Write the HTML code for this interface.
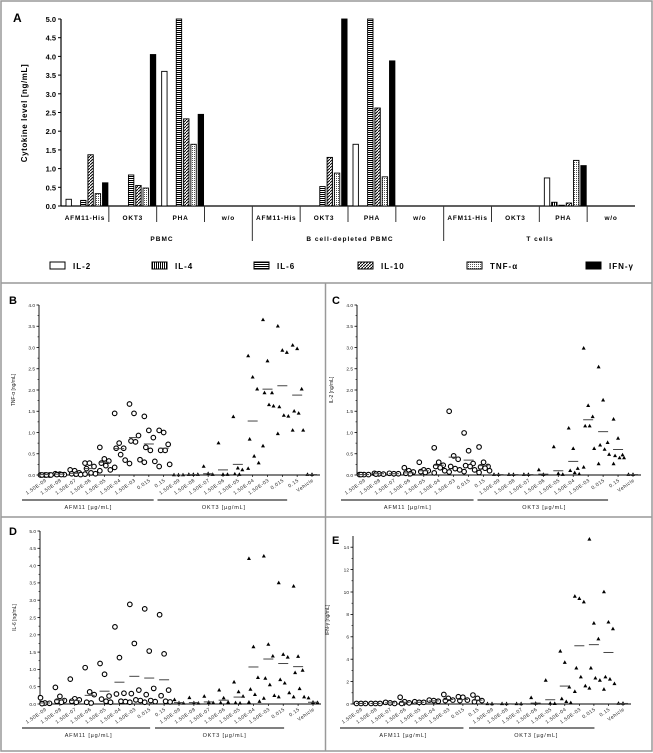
<!DOCTYPE html>
<html><head><meta charset="utf-8">
<style>
html,body{margin:0;padding:0;background:#fff;}
svg{display:block;font-family:"Liberation Sans",Arial,sans-serif;}
</style></head>
<body>
<svg id="fig" width="653" height="753" viewBox="0 0 653 753">
<defs>
<pattern id="pVert" patternUnits="userSpaceOnUse" width="2" height="2"><rect width="2" height="2" fill="#fff"/><rect width="1" height="2" fill="#000"/></pattern>
<pattern id="pHorz" patternUnits="userSpaceOnUse" width="2" height="2"><rect width="2" height="2" fill="#fff"/><rect width="2" height="1" fill="#000"/></pattern>
<pattern id="pDiag" patternUnits="userSpaceOnUse" width="3" height="3"><rect width="3" height="3" fill="#fff"/><path d="M0,3 L3,0" stroke="#000" stroke-width="1"/></pattern>
<pattern id="pDots" patternUnits="userSpaceOnUse" width="2" height="2"><rect width="2" height="2" fill="#fff"/><rect width="1" height="1" fill="#555"/></pattern>
</defs>
<rect x="1" y="1" width="651" height="750" fill="none" stroke="#999" stroke-width="1.5"/>
<line x1="1" y1="283" x2="652" y2="283" stroke="#999" stroke-width="1.5"/>
<line x1="1" y1="517" x2="652" y2="517" stroke="#999" stroke-width="1.5"/>
<line x1="325.5" y1="283" x2="325.5" y2="751" stroke="#999" stroke-width="1.5"/>
<g id="panelA"></g>
<g id="panels"></g>
</svg>
<script>
// ---------- Panel A data ----------
const groupLabels = ["AFM11-His","OKT3","PHA","w/o","AFM11-His","OKT3","PHA","w/o","AFM11-His","OKT3","PHA","w/o"];
const cellLabels = ["PBMC","B cell-depleted PBMC","T cells"];
const cytokines = ["IL-2","IL-4","IL-6","IL-10","TNF-α","IFN-γ"];
const il2 = [0.18,0,3.6,0, 0,0,1.65,0, 0,0,0.75,0];
const il4 = [0,0,0,0, 0,0,0,0, 0,0,0.1,0];
const il6 = [0.15,0.83,5.0,0, 0,0.52,5.0,0, 0,0,0.02,0];
const il10 = [1.37,0.55,2.33,0, 0,1.3,2.62,0, 0,0,0.08,0];
const tnf = [0.33,0.48,1.65,0, 0,0.88,0.78,0, 0,0,1.22,0];
const ifn = [0.62,4.05,2.45,0, 0,5.0,3.88,0, 0,0,1.08,0];
const aTicks = ["0.0","0.5","1.0","1.5","2.0","2.5","3.0","3.5","4.0","4.5","5.0"];

// ---------- Scatter data (B: TNF, C: IL-2, D: IL-6, E: IFN) ----------
const doseLabels = ["1.50E-09","1.50E-08","1.50E-07","1.50E-06","1.50E-05","1.50E-04","1.50E-03","0.015","0.15","1.50E-09","1.50E-08","1.50E-07","1.50E-06","1.50E-05","1.50E-04","1.50E-03","0.015","0.15","Vehicle"];
const tnfPoints = [[0,0,0,0,0,0],[0.03,0.02,0.01,0.01,0.01],[0.12,0.1,0.05,0.03,0.02,0.01],[0.28,0.28,0.2,0.15,0.05,0.03,0.02],[0.65,0.38,0.33,0.28,0.22,0.12,0.1],[1.45,0.75,0.63,0.63,0.48,0.35,0.18],[1.67,1.45,0.93,0.8,0.78,0.36,0.27],[1.38,1.05,0.88,0.65,0.58,0.32,0.3],[1.05,1.0,0.72,0.58,0.58,0.25,0.2],
 [0,0,0],[0.01,0.01,0.01],[0.2,0.03,0.01],[0.75,0.01,0.01],[1.37,0.16,0.12,0.02,0.01],[2.8,2.3,2.02,0.84,0.44,0.28,0.15],[3.65,2.68,1.93,1.93,1.65,1.62,0.68],[3.5,2.93,2.88,1.6,1.4,1.38,0.97],[3.05,2.97,2.02,1.5,1.45,1.05,1.05],[0.01,0.01]];
const tnfMeans = [0.01,0.02,0.04,0.15,0.3,0.62,0.88,0.73,0.63,0,0.01,0.03,0.12,0.25,1.27,2.02,2.1,1.88,0.01];
const il2Points = [[0.01,0.01,0.01,0.01],[0.04,0.03,0.02,0.02],[0.04,0.03,0.03],[0.17,0.1,0.07,0.04,0.03],[0.3,0.12,0.1,0.08,0.06],[0.64,0.3,0.23,0.2,0.17,0.1,0.05],[1.5,0.45,0.37,0.2,0.15,0.12,0.07],[0.99,0.57,0.27,0.22,0.2,0.12,0.08],[0.66,0.3,0.2,0.19,0.16,0.1,0.06],
 [0.01,0.01],[0.01,0.01],[0.01,0.01],[0.12,0.01],[0.66,0.03,0.01],[1.1,0.62,0.15,0.1,0.05,0.02],[2.98,1.63,1.37,1.15,1.15,0.62,0.18],[2.54,1.76,0.76,0.7,0.6,0.48,0.26],[1.31,0.86,0.47,0.45,0.4,0.4,0.26],[0.01,0.01]];
const il2Means = [0.01,0.03,0.03,0.05,0.1,0.23,0.42,0.35,0.22,0.01,0.01,0.01,0.02,0.1,0.32,1.3,1.02,0.6,0.01];
const il6Points = [[0.18,0.03,0.02,0.01],[0.48,0.22,0.1,0.08,0.05],[0.72,0.15,0.12,0.08,0.05],[1.05,0.35,0.27,0.05,0.03],[1.17,0.86,0.23,0.14,0.08,0.05],[2.23,1.34,0.31,0.29,0.08,0.07],[2.88,1.75,0.4,0.3,0.12,0.1,0.05],[2.75,1.53,0.45,0.27,0.1,0.07,0.05],[2.58,1.45,0.4,0.24,0.08,0.06],
 [0.12,0.03,0.02],[0.18,0.03,0.02],[0.22,0.05,0.03],[0.4,0.17,0.05,0.03],[0.63,0.35,0.22,0.03,0.02],[4.2,1.65,0.76,0.42,0.27,0.07,0.05],[4.27,1.72,1.38,0.74,0.55,0.24,0.16],[3.5,1.43,1.35,0.7,0.6,0.32,0.2],[3.4,1.37,0.97,0.9,0.44,0.2,0.2],[0.17,0.05,0.04]];
const il6Means = [0.03,0.12,0.1,0.25,0.37,0.63,0.8,0.75,0.7,0.04,0.04,0.06,0.11,0.2,1.07,1.3,1.17,1.08,0.05];
const ifnPoints = [[0.05,0.05,0.05],[0.05,0.05,0.05],[0.15,0.1,0.05],[0.6,0.2,0.1,0.05],[0.2,0.15,0.15],[0.35,0.3,0.25],[0.85,0.5,0.35,0.3],[0.65,0.6,0.35,0.3],[0.8,0.5,0.3,0.2],
 [0.02,0.02],[0.02,0.02],[0.02,0.02],[0.55,0.05],[2.1,0.05,0.03],[4.7,3.7,1.5,0.45,0.2,0.1],[9.6,9.4,9.1,3.2,2.4,1.6,1.1],[14.7,7.2,5.8,3.2,2.3,2.1,1.4],[10,7.3,6.7,2.4,2.2,1.8,1.3],[0.05,0.05]];
const ifnMeans = [0.05,0.05,0.1,0.15,0.15,0.28,0.4,0.4,0.35,0.02,0.02,0.02,0.08,0.38,1.6,5.2,5.3,4.6,0.05];
const ticks4 = ["0.0","0.5","1.0","1.5","2.0","2.5","3.0","3.5","4.0"];
const ticks5 = ["0.0","0.5","1.0","1.5","2.0","2.5","3.0","3.5","4.0","4.5","5.0"];
const ticks15 = ["0","2","4","6","8","10","12","14"];

const NS = "http://www.w3.org/2000/svg";
function mk(parent, tag, attrs, text){
  const e = document.createElementNS(NS, tag);
  for (const k in attrs) e.setAttribute(k, attrs[k]);
  if (text !== undefined) e.textContent = text;
  parent.appendChild(e);
  return e;
}

// ---------- Draw Panel A ----------
(function(){
  const g = document.getElementById('panelA');
  const ax = 61, y0 = 206, yTop = 19, vmax = 5, xEnd = 635;
  const gw = (xEnd - ax) / groupLabels.length;
  const yS = v => y0 - (v / vmax) * (y0 - yTop);
  const series = [il2, il4, il6, il10, tnf, ifn];
  const fills = ["#fff","url(#pVert)","url(#pHorz)","url(#pDiag)","url(#pDots)","#000"];
  let t = mk(g,'text',{x:13,y:22,'font-size':12,'font-weight':'bold'},'A');
   
  let l = mk(g,'line',{x1:ax,y1:yTop,x2:ax,y2:y0,stroke:'#000','stroke-width':1.2});
   
  aTicks.forEach((s,i)=>{
    const v = parseFloat(s), y = yS(v);
    const tk = mk(g,'line',{x1:ax-3,y1:y,x2:ax,y2:y,stroke:'#000','stroke-width':1});
     
    const tl = mk(g,'text',{x:ax-5,y:y+3,'font-size':7.5,'font-weight':'bold','text-anchor':'end'},s);
     
  });
  t = mk(g,'text',{x:0,y:0,'font-size':8,'font-weight':'bold','text-anchor':'middle','letter-spacing':'0.6',transform:'translate(27,113) rotate(-90)'},'Cytokine level [ng/mL]');
   
  l = mk(g,'line',{x1:ax,y1:y0,x2:xEnd,y2:y0,stroke:'#000','stroke-width':1.2});
   
  groupLabels.forEach((lab,gi)=>{
    const gx = ax + gi*gw;
    if (gi>0){
      const long = (gi===4||gi===8);
      const sp = mk(g,'line',{x1:gx,y1:y0,x2:gx,y2:long?241:222,stroke:'#333','stroke-width':1});
       
    }
    const gl = mk(g,'text',{x:gx+gw/2,y:220,'font-size':6.5,'font-weight':'bold','text-anchor':'middle','letter-spacing':'0.8'},lab);
     
    series.forEach((arr,si)=>{
      const v = arr[gi];
      if (v<=0) return;
      const r = mk(g,'rect',{x:gx+5+si*7.3,y:yS(v),width:5.4,height:y0-yS(v),fill:fills[si],stroke:'#000','stroke-width':0.9});
      
      
    });
  });
  [[162,cellLabels[0]],[350,cellLabels[1]],[540,cellLabels[2]]].forEach(([x,s])=>{
    const c = mk(g,'text',{x:x,y:241,'font-size':6.5,'font-weight':'bold','text-anchor':'middle','letter-spacing':'1'},s);
     
  });
  const legX = [50,152,254,358,467,586];
  const legT = ["IL-2","IL-4","IL-6","IL-10","TNF-α","IFN-γ"];
  legX.forEach((x,i)=>{
    const r = mk(g,'rect',{x:x,y:262,width:15,height:7,fill:fills[i],stroke:'#000','stroke-width':1});
     
    const lt = mk(g,'text',{x:x+23,y:269,'font-size':8,'font-weight':'bold','letter-spacing':'1'},legT[i]);
     
  });
})();

// ---------- Draw scatter panels ----------
function scatter(cfg){
  const root = document.getElementById('panels');
  const g = mk(root,'g',{});
  
  
  const {ax,y0,yTop,vmax,c0,c1,xEnd} = cfg;
  const yS = v => y0 - (v/vmax)*(y0-yTop);
  const n = doseLabels.length;
  const xS = i => c0 + i*(c1-c0)/(n-1);
  let t = mk(g,'text',{x:cfg.lx,y:cfg.ly,'font-size':11,'font-weight':'bold'},cfg.id);
   
  let l = mk(g,'line',{x1:ax,y1:yS(vmax),x2:ax,y2:y0,stroke:'#000','stroke-width':0.9});
   
  cfg.ticks.forEach((s,i)=>{
    const y = yS(parseFloat(s));
    const tk = mk(g,'line',{x1:ax-2.5,y1:y,x2:ax,y2:y,stroke:'#000','stroke-width':0.8});
     
    const tl = mk(g,'text',{x:ax-4,y:y+1.8,'font-size':4.8,'text-anchor':'end',fill:'#222'},s);
     
    if (i<cfg.ticks.length-1){
      const ym = yS((parseFloat(s)+parseFloat(cfg.ticks[i+1]))/2);
      const mt = mk(g,'line',{x1:ax-1.5,y1:ym,x2:ax,y2:ym,stroke:'#000','stroke-width':0.6});
       
    }
  });
  t = mk(g,'text',{x:0,y:0,'font-size':5,'text-anchor':'middle',fill:'#222',transform:`translate(${ax-24},${(y0+yS(vmax))/2}) rotate(-90)`},cfg.title);
   
  l = mk(g,'line',{x1:ax,y1:y0,x2:xEnd,y2:y0,stroke:'#000','stroke-width':0.9});
   
  doseLabels.forEach((lab,i)=>{
    const x = xS(i);
    const tk = mk(g,'line',{x1:x,y1:y0,x2:x,y2:y0+2,stroke:'#000','stroke-width':0.7});
     
    const tl = mk(g,'text',{x:0,y:0,'font-size':5,'text-anchor':'end',fill:'#222','letter-spacing':'0.5',transform:`translate(${x+2},${y0+6}) rotate(-35)`},lab);
     
    const pts = cfg.points[i];
    const tri = i>=9;
    pts.forEach((v,k)=>{
      const off = ((k%3)-1)*4.5 + (k>=3 && k<6 ? 1.5 : 0);
      const px = x+off, py = yS(v);
      let m;
      if (tri){
        m = mk(g,'path',{d:`M${px},${py-2.3} L${px+2},${py+1.3} L${px-2},${py+1.3} Z`,fill:'#000'});
      } else {
        m = mk(g,'circle',{cx:px,cy:py,r:2.3,fill:'#fff',stroke:'#000','stroke-width':1.1});
      }
      
      
    });
    const my = yS(cfg.means[i]);
    const ml = mk(g,'line',{x1:x-5,y1:my,x2:x+5,y2:my,stroke:'#444','stroke-width':1});
     
  });
  const u1 = mk(g,'line',{x1:xS(0)-cfg.ua,y1:cfg.uy,x2:xS(8)-cfg.ub,y2:cfg.uy,stroke:'#000','stroke-width':0.9});
   
  const u2 = mk(g,'line',{x1:xS(9)-cfg.uc,y1:cfg.uy,x2:xS(17)-cfg.ub,y2:cfg.uy,stroke:'#000','stroke-width':0.9});
   
  const a1 = mk(g,'text',{x:(xS(0)+xS(8))/2-16,y:cfg.uy+9,'font-size':5.5,'text-anchor':'middle','letter-spacing':'0.8',fill:'#222'},'AFM11 [µg/mL]');
   
  const a2 = mk(g,'text',{x:(xS(9)+xS(17))/2-14,y:cfg.uy+9,'font-size':5.5,'text-anchor':'middle','letter-spacing':'0.8',fill:'#222'},'OKT3 [µg/mL]');
   
}

scatter({id:'B',ax:39,y0:475,yTop:305,vmax:4,c0:45,c1:312,xEnd:320,lx:9,ly:304,ticks:ticks4,points:tnfPoints,means:tnfMeans,title:'TNF-α [ng/mL]',uy:500,ua:23,ub:10,uc:21});
scatter({id:'C',ax:357,y0:475,yTop:305,vmax:4,c0:364,c1:633,xEnd:641,lx:332,ly:304,ticks:ticks4,points:il2Points,means:il2Means,title:'IL-2 [ng/mL]',uy:500,ua:23,ub:10,uc:21});
scatter({id:'D',ax:40,y0:704,yTop:531,vmax:5,c0:45,c1:313,xEnd:321,lx:9,ly:535,ticks:ticks5,points:il6Points,means:il6Means,title:'IL-6 [ng/mL]',uy:728,ua:23,ub:14,uc:24});
scatter({id:'E',ax:353,y0:704,yTop:536,vmax:15,c0:361,c1:623,xEnd:631,lx:332,ly:544,ticks:ticks15,points:ifnPoints,means:ifnMeans,title:'IFN-γ [ng/mL]',uy:728,ua:21,ub:14,uc:23});
</script>
</body></html>
